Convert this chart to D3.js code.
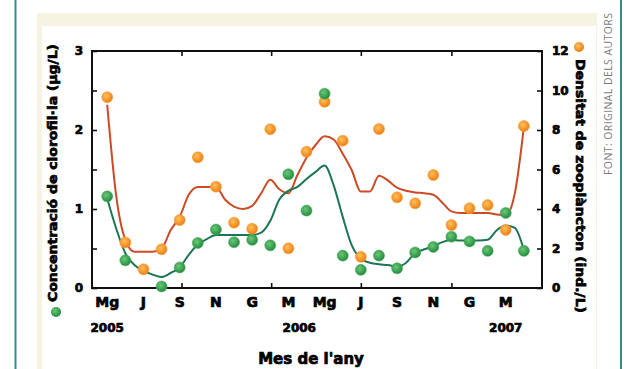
<!DOCTYPE html>
<html>
<head>
<meta charset="utf-8">
<script src="https://cdn.jsdelivr.net/npm/d3@7"></script>
<style>
  html, body { margin: 0; padding: 0; background: #fff; }
  svg { display: block; }
</style>
</head>
<body>
<div id="chart"></div>
<script>
// month index 0 = maig 2005 ... 23 = abril 2007
const monthIdx = d3.range(0, 24);
const monthLabels = ['Mg', 'J', 'S', 'N', 'G', 'M', 'Mg', 'J', 'S', 'N', 'G', 'M'];
const monthLabelIdx = [0, 2, 4, 6, 8, 10, 12, 14, 16, 18, 20, 22];
const yearLabels = ['2005', '2006', '2007'];
const yearLabelIdx = [0, 10.6, 22];
const xTickIdx = [4.1, 9.05, 14.0, 19.0];

// clorofil·la (eix esquerre, µg/L)
const chlValues = [1.16, 0.35, null, 0.02, 0.26, 0.57, 0.74, 0.58, 0.61, 0.54, 1.44, 0.98,
                   2.46, 0.41, 0.23, 0.41, 0.25, 0.45, 0.52, 0.65, 0.59, 0.47, 0.95, 0.47];
// sèrie taronja (eix dret)
const zooValues = [9.66, 2.31, 0.95, 1.96, 3.44, 6.62, 5.13, 3.31, 3.0, 8.04, 2.01, 6.9,
                   9.43, 7.46, 1.58, 8.05, 4.59, 4.29, 5.72, 3.19, 4.04, 4.2, 2.94, 8.2];

// corbes suavitzades, llegides cada mig mes
const trendIdx = d3.range(0, 23.5, 0.5);
const chlTrend = [1.13, 0.75, 0.44, 0.29, 0.22, 0.17, 0.14, 0.19, 0.26, 0.42, 0.55, 0.62,
                  0.67, 0.67, 0.67, 0.67, 0.67, 0.70, 0.85, 1.12, 1.23, 1.28, 1.38, 1.47,
                  1.55, 1.30, 0.90, 0.54, 0.37, 0.32, 0.30, 0.29, 0.27, 0.32, 0.44, 0.49,
                  0.53, 0.58, 0.61, 0.60, 0.60, 0.60, 0.61, 0.73, 0.79, 0.76, 0.48];
const zooTrend = [9.28, 4.64, 2.44, 1.84, 1.84, 1.84, 2.0, 2.92, 3.6, 4.72, 5.12, 5.12,
                  5.12, 4.48, 4.12, 4.0, 4.16, 4.8, 5.48, 5.0, 4.8, 5.72, 6.6, 7.24,
                  7.68, 7.52, 6.8, 5.96, 4.88, 4.88, 5.68, 5.44, 5.08, 4.92, 4.84, 4.8,
                  4.72, 4.32, 3.88, 3.8, 3.8, 3.8, 3.8, 3.72, 3.68, 4.8, 8.16];

const W = 642, H = 369;
const plot = { left: 92, right: 542, top: 51, bottom: 288 };

const svg = d3.select('#chart').append('svg')
  .attr('width', W).attr('height', H);

const defs = svg.append('defs');
function grad(id, inner, outer) {
  const g = defs.append('radialGradient').attr('id', id).attr('cx', '40%').attr('cy', '38%').attr('r', '65%');
  g.append('stop').attr('offset', '0%').attr('stop-color', inner);
  g.append('stop').attr('offset', '100%').attr('stop-color', outer);
}
grad('gOrange', '#ffc05a', '#ee7a10');
grad('gGreen', '#6cc777', '#1f8a3c');

// marc de la pàgina
svg.append('line').attr('x1', 15.5).attr('x2', 15.5).attr('y1', 0).attr('y2', H)
  .attr('stroke', '#2f8d8d').attr('stroke-width', 2);
svg.append('line').attr('x1', 621).attr('x2', 621).attr('y1', 0).attr('y2', H)
  .attr('stroke', '#2f8d8d').attr('stroke-width', 2);
svg.append('rect').attr('x', 37).attr('y', 13).attr('width', 560).attr('height', H - 13)
  .attr('fill', '#f6f3e3');
svg.append('rect').attr('x', 42).attr('y', 26).attr('width', 554).attr('height', H - 26)
  .attr('fill', '#fff');

svg.append('text')
  .attr('transform', 'translate(612,175) rotate(-90)')
  .attr('font-family', '"Open Sans", sans-serif')
  .attr('font-size', 10.5)
  .attr('fill', '#7a7a7a')
  .attr('textLength', 162)
  .text('FONT: ORIGINAL DELS AUTORS');

const x = d3.scaleLinear().domain([-0.84, 24]).range([plot.left, plot.right]);
const yL = d3.scaleLinear().domain([0, 3]).range([plot.bottom, plot.top]);
const yR = d3.scaleLinear().domain([0, 12]).range([plot.bottom, plot.top]);

const labelFont = '"DejaVu Sans", sans-serif';
// el text original és molt gruixut: afegim un traç fi
function heavy(sel) {
  sel.attr('font-family', labelFont).attr('font-weight', 'bold')
    .attr('fill', '#000').attr('stroke', '#000').attr('stroke-width', 0.7);
}

// eixos (ticks cap a dins)
const axL = svg.append('g').attr('transform', `translate(${plot.left},0)`)
  .call(d3.axisLeft(yL).tickValues(d3.range(0, 3.01, 0.5)).tickSize(-5).tickPadding(9)
    .tickFormat(d => Number.isInteger(d) ? d : ''));
const axR = svg.append('g').attr('transform', `translate(${plot.right},0)`)
  .call(d3.axisRight(yR).tickValues(d3.range(0, 12.1, 2)).tickSize(-5).tickPadding(10));
const axB = svg.append('g').attr('transform', `translate(0,${plot.bottom})`)
  .call(d3.axisBottom(x).tickValues(xTickIdx).tickSize(-5).tickFormat(''));
const axT = svg.append('g').attr('transform', `translate(0,${plot.top})`)
  .call(d3.axisTop(x).tickValues(xTickIdx).tickSize(-5).tickFormat(''));
[axL, axR, axB, axT].forEach(a => {
  a.select('.domain').remove();
  a.selectAll('.tick line').attr('stroke', '#111').attr('stroke-width', 1.6);
  a.selectAll('.tick text').call(heavy).attr('font-size', 12);
});

svg.append('rect')
  .attr('x', plot.left).attr('y', plot.top)
  .attr('width', plot.right - plot.left).attr('height', plot.bottom - plot.top)
  .attr('fill', 'none').attr('stroke', '#111').attr('stroke-width', 2);

// etiquetes de mes i any
svg.append('g').selectAll('text').data(monthLabelIdx).join('text')
  .attr('x', d => x(d)).attr('y', 307)
  .attr('text-anchor', 'middle')
  .call(heavy).attr('font-size', 14)
  .text((d, i) => monthLabels[i]);
svg.append('g').selectAll('text').data(yearLabelIdx).join('text')
  .attr('x', d => x(d)).attr('y', 332)
  .attr('text-anchor', 'middle')
  .call(heavy).attr('font-size', 12)
  .text((d, i) => yearLabels[i]);

svg.append('text')
  .attr('x', 311).attr('y', 364).attr('text-anchor', 'middle')
  .call(heavy).attr('font-size', 15)
  .text("Mes de l'any");

// títols dels eixos verticals
svg.append('text')
  .attr('transform', 'translate(57,173) rotate(-90)')
  .attr('text-anchor', 'middle')
  .call(heavy).attr('font-size', 13)
  .attr('textLength', 258).attr('lengthAdjust', 'spacingAndGlyphs')
  .text('Concentració de clorofil·la (µg/L)');
svg.append('text')
  .attr('transform', 'translate(576,186) rotate(90)')
  .attr('text-anchor', 'middle')
  .call(heavy).attr('font-size', 13)
  .attr('textLength', 254).attr('lengthAdjust', 'spacingAndGlyphs')
  .text('Densitat de zooplàncton (ind./L)');
svg.append('circle').attr('cx', 56).attr('cy', 312).attr('r', 5).attr('fill', 'url(#gGreen)');
svg.append('circle').attr('cx', 579).attr('cy', 47).attr('r', 5).attr('fill', 'url(#gOrange)');

// corbes
const lineR = d3.line().x((d, i) => x(trendIdx[i])).y(d => yR(d)).curve(d3.curveMonotoneX);
const lineL = d3.line().x((d, i) => x(trendIdx[i])).y(d => yL(d)).curve(d3.curveMonotoneX);
svg.append('path').datum(zooTrend)
  .attr('d', lineR)
  .attr('fill', 'none').attr('stroke', '#cc4a26').attr('stroke-width', 2);
svg.append('path').datum(chlTrend)
  .attr('d', lineL)
  .attr('fill', 'none').attr('stroke', '#1d7653').attr('stroke-width', 2);

// punts
svg.append('g').selectAll('circle')
  .data(monthIdx.filter(i => zooValues[i] != null)).join('circle')
  .attr('cx', i => x(i)).attr('cy', i => yR(zooValues[i])).attr('r', 5.5)
  .attr('fill', 'url(#gOrange)').attr('stroke', '#f4a040').attr('stroke-width', 0.6);
svg.append('g').selectAll('circle')
  .data(monthIdx.filter(i => chlValues[i] != null)).join('circle')
  .attr('cx', i => x(i)).attr('cy', i => yL(chlValues[i])).attr('r', 5.5)
  .attr('fill', 'url(#gGreen)').attr('stroke', '#4aa85a').attr('stroke-width', 0.6);
</script>
</body>
</html>
